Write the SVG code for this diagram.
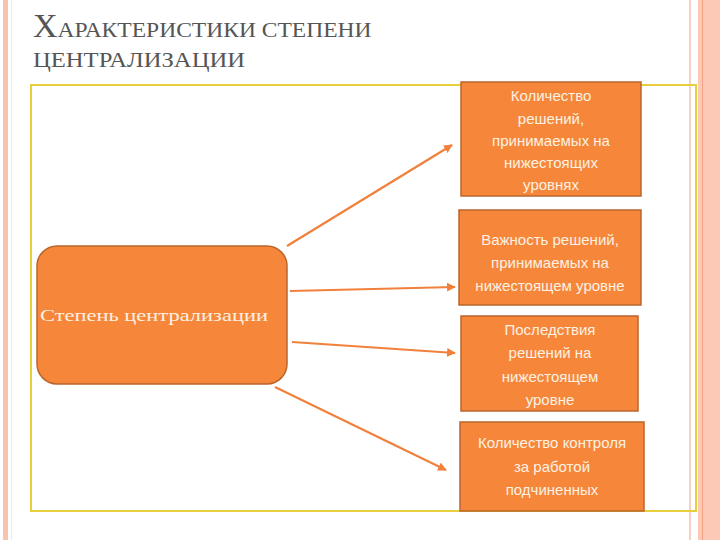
<svg xmlns="http://www.w3.org/2000/svg" width="720" height="540" viewBox="0 0 720 540">
<defs>
<style>
.title{font-family:"Liberation Serif","DejaVu Serif",serif;fill:#555555}
.box{fill:#F6873A;stroke:#B9662C;stroke-width:1.5}
.bt{font-family:"Liberation Sans",Arial,sans-serif;font-size:15px;fill:#FDF1E2;text-anchor:middle}
.conn{stroke:#F0803C;stroke-width:2.2;fill:none;marker-end:url(#ah)}
</style>
<marker id="ah" viewBox="0 0 10 10" refX="9" refY="5" markerWidth="4" markerHeight="4" orient="auto" markerUnits="strokeWidth">
<path d="M0,0 L10,5 L0,10 z" fill="#F0803C"/>
</marker>
</defs>
<rect width="720" height="540" fill="#FFFFFF"/>
<!-- page decorations -->
<rect x="3" y="0" width="5" height="540" fill="#F9C3AE"/>
<line x1="11.5" y1="0" x2="11.5" y2="540" stroke="#FBE6DC" stroke-width="1"/>
<line x1="690" y1="0" x2="690" y2="540" stroke="#F3D2C4" stroke-width="2"/>
<rect x="698" y="0" width="22" height="540" fill="#FCC9B6"/>
<line x1="702.5" y1="0" x2="702.5" y2="540" stroke="#F2A184" stroke-width="1"/>
<!-- title -->
<text class="title" x="33" y="37"><tspan font-size="34">Х</tspan><tspan font-size="22" textLength="314" lengthAdjust="spacingAndGlyphs">АРАКТЕРИСТИКИ СТЕПЕНИ</tspan></text>
<text class="title" x="33" y="67" font-size="22" textLength="212" lengthAdjust="spacingAndGlyphs">ЦЕНТРАЛИЗАЦИИ</text>
<!-- frame -->
<rect x="31" y="85" width="665" height="426" fill="none" stroke="#E6CF3A" stroke-width="2"/>
<!-- connectors -->
<g id="connectors">
<line class="conn" x1="287" y1="246" x2="452" y2="145"/>
<line class="conn" x1="290" y1="291" x2="455" y2="287"/>
<line class="conn" x1="292" y1="342" x2="455" y2="353"/>
<line class="conn" x1="275" y1="387" x2="446" y2="470"/>
</g>
<g id="node-center">
<rect class="box" x="37" y="246" width="250" height="138" rx="20" ry="20"/>
<text x="154" y="321" font-family="'Liberation Serif','DejaVu Serif',serif" font-size="17" fill="#FDF1E2" text-anchor="middle" textLength="228" lengthAdjust="spacingAndGlyphs">Степень централизации</text>
</g>
<g id="node-1">
<rect class="box" x="461" y="82" width="180" height="114"/>
<text class="bt" x="551" y="101">Количество</text>
<text class="bt" x="551" y="124">решений,</text>
<text class="bt" x="551" y="146">принимаемых на</text>
<text class="bt" x="551" y="168">нижестоящих</text>
<text class="bt" x="551" y="190">уровнях</text>
</g>
<g id="node-2">
<rect class="box" x="459" y="210" width="182" height="95"/>
<text class="bt" x="550" y="245">Важность решений,</text>
<text class="bt" x="550" y="268">принимаемых на</text>
<text class="bt" x="550" y="291">нижестоящем уровне</text>
</g>
<g id="node-3">
<rect class="box" x="461" y="316" width="177" height="95"/>
<text class="bt" x="550" y="335">Последствия</text>
<text class="bt" x="550" y="358">решений на</text>
<text class="bt" x="550" y="382">нижестоящем</text>
<text class="bt" x="550" y="405">уровне</text>
</g>
<g id="node-4">
<rect class="box" x="460" y="422" width="184" height="89"/>
<text class="bt" x="552" y="448">Количество контроля</text>
<text class="bt" x="552" y="472">за работой</text>
<text class="bt" x="552" y="495">подчиненных</text>
</g>
</svg>
